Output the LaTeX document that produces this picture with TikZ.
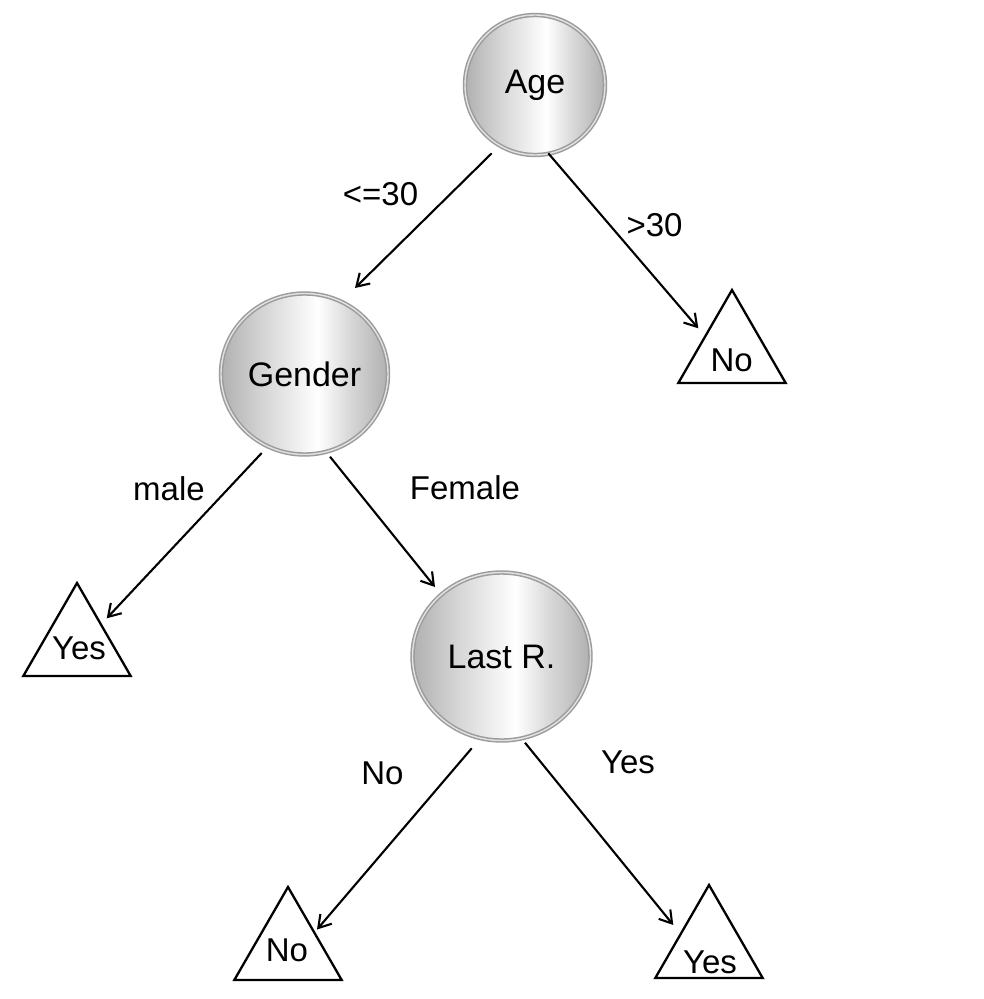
\documentclass[tikz,border=0pt]{standalone}
\usepackage{fontspec}
\setmainfont{Liberation Sans}
\usetikzlibrary{shapes.geometric,arrows.meta,calc}
\definecolor{cedge}{HTML}{B0B0B0}
\definecolor{clight}{HTML}{D6D6D6}
\definecolor{ringc}{HTML}{9C9C9C}
\definecolor{ringin}{HTML}{E2E2E2}
\pgfdeclarehorizontalshading{ballshade}{100bp}{color(0bp)=(cedge); color(25bp)=(cedge); color(38bp)=(clight); color(54bp)=(white); color(64bp)=(clight); color(75bp)=(cedge); color(100bp)=(cedge)}
\begin{document}
\begin{tikzpicture}[x=1pt,y=-1pt,
  ball/.style={ellipse, inner sep=0pt, outer sep=0pt, shading=ballshade,
    draw=ringc, line width=1.5pt, double=ringin, double distance=1.4pt,
    font=\fontsize{34}{40}\selectfont},
  leaf/.style={regular polygon, regular polygon sides=3, minimum size=124pt,
    inner sep=0pt, outer sep=0pt, draw=black, line width=2.3pt},
  leaftxt/.style={inner sep=0pt, font=\fontsize{33}{40}\selectfont},
  lbl/.style={inner sep=0pt, font=\fontsize{33}{40}\selectfont},
  arr/.style={line width=2.1pt, -{Straight Barb[length=12pt,width=15pt]}}]
\useasboundingbox[fill=white] (0,0) rectangle (984,999);
% inner nodes
\node[ball, minimum width=140pt, minimum height=140pt] (age) at (535,85) {Age};
\node[ball, minimum width=167pt, minimum height=161pt] (gender) at (304.5,374) {Gender};
\node[ball, minimum width=178pt, minimum height=168pt] (lastr) at (501.5,656.5) {Last R.};
% leaves
\node[leaf] (no1) at (732,352) {};
\node[leaftxt] (no1t) at (731.7,360) {No};
\node[leaf] (yes1) at (77,645) {};
\node[leaftxt] (yes1t) at (79,648) {Yes};
\node[leaf] (no2) at (288,949) {};
\node[leaftxt] (no2t) at (287,950.5) {No};
\node[leaf] (yes2) at (709,947) {};
\node[leaftxt] (yes2t) at (710,962) {Yes};
% connectors
\draw[arr] ($(age)+(-43.3,68.3)$) -- ($(gender)+(50.5,-86)$);
\draw[arr] ($(age)+(13.3,68.3)$) -- ($(no1)+(-33.7,-23.7)$);
\draw[arr] ($(gender)+(-42.8,79)$) -- ($(yes1)+(29.7,-26.7)$);
\draw[arr] ($(gender)+(25.5,82.7)$) -- ($(lastr)+(-66.5,-69.5)$);
\draw[arr] ($(lastr)+(-29.8,91.8)$) -- ($(no2)+(29,-19.5)$);
\draw[arr] ($(lastr)+(23.5,86.2)$) -- ($(yes2)+(-35.7,-22)$);
% edge labels
\node[lbl] (l1) at (380.5,194) {<=30};
\node[lbl] (l2) at (654.5,225.5) {>30};
\node[lbl] (l3) at (169,489) {male};
\node[lbl] (l4) at (465,488) {Female};
\node[lbl] (l5) at (382.5,773) {No};
\node[lbl] (l6) at (628,762) {Yes};
\end{tikzpicture}
\end{document}
